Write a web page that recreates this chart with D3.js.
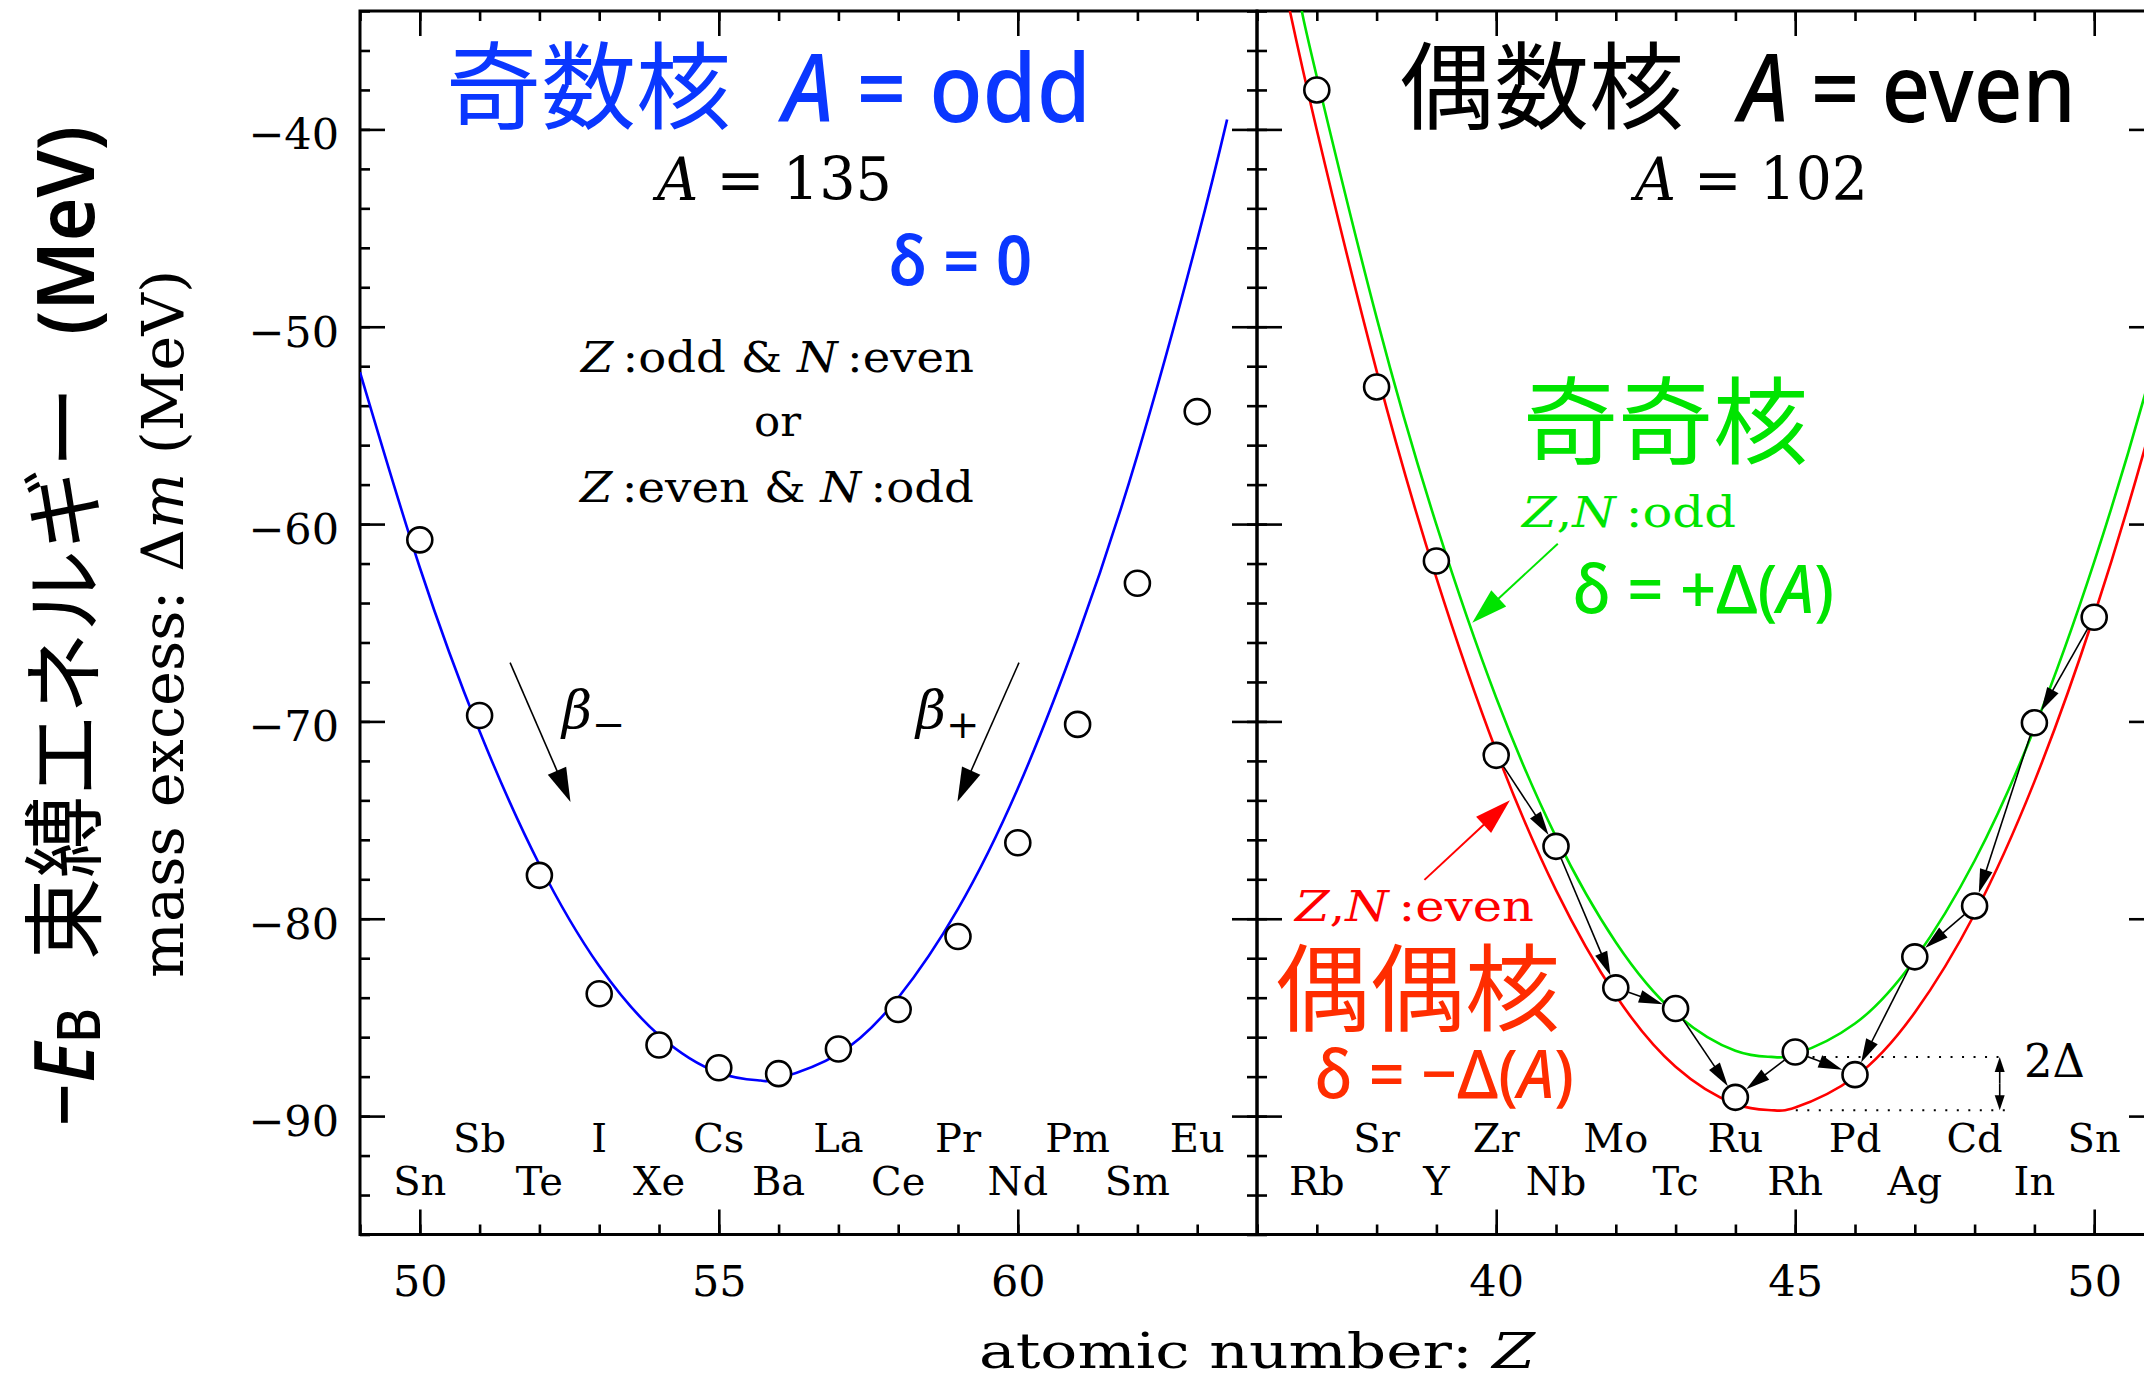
<!DOCTYPE html>
<html>
<head>
<meta charset="utf-8">
<script src="https://cdn.jsdelivr.net/npm/d3@7"></script>
<style>
  html, body { margin: 0; padding: 0; background: #fff; overflow: hidden; }
  svg { display: block; background: #fff; }
  .serif { font-family: "DejaVu Serif", "Liberation Serif", serif; }
  .sans { font-family: "Noto Sans", "DejaVu Sans", sans-serif; }
  .cjk { font-family: "Noto Sans CJK JP", "Noto Sans CJK SC", sans-serif; }
</style>
</head>
<body>
<div class="chart-wrapper"><svg></svg></div>
<script>
// ---- A = 135 (odd A) ----
var oddZ = [50, 51, 52, 53, 54, 55, 56, 57, 58, 59, 60, 61, 62, 63];
var oddSymbols = ["Sn", "Sb", "Te", "I", "Xe", "Cs", "Ba", "La", "Ce", "Pr", "Nd", "Pm", "Sm", "Eu"];
var oddMass = [-60.8, -69.7, -77.8, -83.8, -86.4, -87.55, -87.85, -86.6, -84.6, -80.9, -76.15, -70.15, -63.0, -54.3];
// mass formula curve
var oddCurveZ = [49, 50, 51, 52, 53, 54, 55, 55.7, 56, 57, 58, 59, 60, 61, 62, 63, 63.5];
var oddCurveMass = [-52.3, -62.2, -70.5, -77.25, -82.4, -85.9, -87.8, -88.2, -88.1, -86.85, -84.0, -79.5, -73.4, -65.7, -56.5, -45.6, -39.5];

// ---- A = 102 (even A) ----
var evenZ = [37, 38, 39, 40, 41, 42, 43, 44, 45, 46, 47, 48, 49, 50];
var evenSymbols = ["Rb", "Sr", "Y", "Zr", "Nb", "Mo", "Tc", "Ru", "Rh", "Pd", "Ag", "Cd", "In", "Sn"];
var evenMass = [-38.0, -53.05, -61.87, -71.72, -76.33, -83.5, -84.55, -89.05, -86.75, -87.9, -81.93, -79.35, -70.07, -64.72];
// even-even curve (red) and odd-odd curve (green)
var eeCurveZ = [36.55, 37, 38, 39, 40, 41, 42, 43, 44, 44.6, 45, 46, 47, 48, 49, 50, 51, 52];
var eeCurveMass = [-34.0, -40.03, -52.24, -62.73, -71.5, -78.55, -83.89, -87.5, -89.39, -89.7, -89.56, -88.01, -84.75, -79.76, -73.05, -64.62, -54.47, -42.61];
var ooCurveZ = [36.75, 37, 38, 39, 40, 41, 42, 43, 44, 44.6, 45, 46, 47, 48, 49, 50, 51, 52];
var ooCurveMass = [-34.0, -37.33, -49.54, -60.03, -68.8, -75.85, -81.19, -84.8, -86.69, -87.0, -86.86, -85.31, -82.05, -77.06, -70.35, -61.92, -51.77, -39.91];
// beta decay chain arrows (from -> to)
var decayFrom = ["Zr", "Nb", "Mo", "Tc", "Rh", "Rh", "Sn", "In", "Cd", "Ag"];
var decayTo   = ["Nb", "Mo", "Tc", "Ru", "Ru", "Pd", "In", "Cd", "Ag", "Pd"];
var pairingGap = [-87.0, -89.7];

// ---- ticks ----
var yTickValues = [-90, -80, -70, -60, -50, -40];
var xTickLeft = [50, 55, 60];
var xTickRight = [40, 45, 50];

var width = 2144,
    height = 1379;

var plotTop = 11,
    plotBottom = 1234.5;

var blueText = "#0a37ff", blueLine = "#0000ff",
    greenC = "#00e400", redLine = "#ff0000", redText = "#ff2d00";

var y = d3.scaleLinear().domain([-96, -34]).range([plotBottom, plotTop]);
var xL = d3.scaleLinear().domain([49, 64]).range([360, 1257]);
var xR = d3.scaleLinear().domain([36, 51]).range([1257, 2154]);

var svg = d3.select("svg")
    .attr("width", width)
    .attr("height", height);

var defs = svg.append("defs");
defs.append("clipPath").attr("id", "clip-left")
    .append("rect").attr("x", 360).attr("y", plotTop).attr("width", 897).attr("height", plotBottom - plotTop);
defs.append("clipPath").attr("id", "clip-right")
    .append("rect").attr("x", 1257).attr("y", plotTop).attr("width", 897).attr("height", plotBottom - plotTop);

function styleAxis(g, labelSize) {
    g.select(".domain").remove();
    g.selectAll("line").attr("stroke", "#000").attr("stroke-width", 2.6);
    g.attr("font-family", null).attr("font-size", null);
    g.selectAll("text")
        .attr("class", "serif")
        .attr("font-size", labelSize || 43)
        .attr("fill", "#000");
}

function drawFrame(x, zTicks, labelY) {
    var d = x.domain();
    var minorZ = d3.range(d[0], d[1] + 1);
    var minorY = d3.range(-96, -33, 2);
    var g = svg.append("g");

    // bottom
    g.append("g").attr("transform", "translate(0," + plotBottom + ")")
        .call(d3.axisBottom(x).tickValues(minorZ).tickSize(-10).tickFormat(""))
        .call(styleAxis);
    g.append("g").attr("transform", "translate(0," + plotBottom + ")")
        .call(d3.axisBottom(x).tickValues(zTicks).tickSize(-25).tickPadding(31).tickFormat(d3.format("d")))
        .call(styleAxis);
    // top
    g.append("g").attr("transform", "translate(0," + plotTop + ")")
        .call(d3.axisTop(x).tickValues(minorZ).tickSize(-10).tickFormat(""))
        .call(styleAxis);
    g.append("g").attr("transform", "translate(0," + plotTop + ")")
        .call(d3.axisTop(x).tickValues(zTicks).tickSize(-25).tickFormat(""))
        .call(styleAxis);
    // left
    g.append("g").attr("transform", "translate(" + x.range()[0] + ",0)")
        .call(d3.axisLeft(y).tickValues(minorY).tickSize(-10).tickFormat(""))
        .call(styleAxis);
    var la = g.append("g").attr("transform", "translate(" + x.range()[0] + ",0)")
        .call(d3.axisLeft(y).tickValues(yTickValues).tickSize(-25).tickPadding(21)
              .tickFormat(labelY ? d3.format("d") : ""))
        .call(styleAxis);
    la.selectAll("text").attr("dy", "0.45em");
    // right
    g.append("g").attr("transform", "translate(" + x.range()[1] + ",0)")
        .call(d3.axisRight(y).tickValues(minorY).tickSize(-10).tickFormat(""))
        .call(styleAxis);
    g.append("g").attr("transform", "translate(" + x.range()[1] + ",0)")
        .call(d3.axisRight(y).tickValues(yTickValues).tickSize(-25).tickFormat(""))
        .call(styleAxis);

    g.append("rect")
        .attr("x", x.range()[0]).attr("y", plotTop)
        .attr("width", x.range()[1] - x.range()[0]).attr("height", plotBottom - plotTop)
        .attr("fill", "none").attr("stroke", "#000").attr("stroke-width", 3);
}

function arrow(g, p0, p1, head, half, color, lw) {
    var dx = p1[0] - p0[0], dy = p1[1] - p0[1];
    var len = Math.sqrt(dx * dx + dy * dy);
    var ux = dx / len, uy = dy / len;
    var bx = p1[0] - ux * head, by = p1[1] - uy * head;
    g.append("line")
        .attr("x1", p0[0]).attr("y1", p0[1]).attr("x2", bx + ux * 2).attr("y2", by + uy * 2)
        .attr("stroke", color).attr("stroke-width", lw);
    g.append("path")
        .attr("d", "M" + p1[0] + "," + p1[1] +
                   "L" + (bx - uy * half) + "," + (by + ux * half) +
                   "L" + (bx + uy * half) + "," + (by - ux * half) + "Z")
        .attr("fill", color).attr("stroke", "none");
}

// text helper: pieces = [[string, {italic, size, dy}]...]
function label(g, x0, x1, base, cls, size, color, pieces, weight) {
    var t = g.append("text")
        .attr("class", cls)
        .attr("x", x0).attr("y", base)
        .attr("font-size", size)
        .attr("fill", color);
    if (weight) t.attr("font-weight", weight);
    if (x1 != null) t.attr("textLength", x1 - x0).attr("lengthAdjust", "spacingAndGlyphs");
    pieces.forEach(function (p) {
        var s = t.append("tspan").text(p[0]);
        var o = p[1] || {};
        if (o.italic) s.attr("font-style", "italic");
        if (o.size) s.attr("font-size", o.size);
        if (o.dy) s.attr("dy", o.dy);
    });
    return t;
}

drawFrame(xL, xTickLeft, true);
drawFrame(xR, xTickRight, false);

// ---------------- left panel ----------------
var left = svg.append("g");

var lineL = d3.line()
    .x(function (d) { return xL(d[0]); })
    .y(function (d) { return y(d[1]); })
    .curve(d3.curveNatural);

left.append("path")
    .attr("clip-path", "url(#clip-left)")
    .datum(d3.zip(oddCurveZ, oddCurveMass))
    .attr("d", lineL)
    .attr("fill", "none").attr("stroke", blueLine).attr("stroke-width", 2.6);

left.selectAll(".nuc")
    .data(d3.zip(oddZ, oddMass))
    .enter()
    .append("circle")
    .attr("class", "nuc")
    .attr("cx", function (d) { return xL(d[0]); })
    .attr("cy", function (d) { return y(d[1]); })
    .attr("r", 12.5)
    .attr("fill", "#fff").attr("stroke", "#000").attr("stroke-width", 2.6);

left.selectAll(".sym")
    .data(oddSymbols)
    .enter()
    .append("text")
    .attr("class", "serif sym")
    .attr("x", function (d, i) { return xL(oddZ[i]); })
    .attr("y", function (d, i) { return i % 2 === 0 ? 1195 : 1152; })
    .attr("text-anchor", "middle")
    .attr("font-size", 40)
    .text(function (d) { return d; });

arrow(left, [xL(51.51), y(-67.02)], [xL(52.52), y(-74.08)], 34, 10, "#000", 1.6);
arrow(left, [xL(60.02), y(-67.02)], [xL(58.99), y(-74.07)], 34, 10, "#000", 1.6);

label(left, 562, null, 728, "serif", 52, "#000", [["β", { italic: true }], ["−", { size: 40, dy: 10 }]]);
label(left, 916, null, 728, "serif", 52, "#000", [["β", { italic: true }], ["+", { size: 40, dy: 10 }]]);

label(left, 446, null, 122, "cjk", 95, blueText, [["奇数核"]]);
label(left, 783, 1091, 122, "sans", 95, blueText, [["A", { italic: true }], [" = odd"]], 500);
label(left, 657, 892, 200, "serif", 60, "#000", [["A", { italic: true }], [" = 135"]]);
label(left, 889, 1032, 285, "sans", 68, blueText, [["δ = 0"]], 600);
label(left, 581, 974, 372, "serif", 42, "#000", [["Z", { italic: true }], ["\u2009:odd & "], ["N", { italic: true }], ["\u2009:even"]]);
label(left, 754, 801, 436, "serif", 42, "#000", [["or"]]);
label(left, 580, 974, 502, "serif", 42, "#000", [["Z", { italic: true }], ["\u2009:even & "], ["N", { italic: true }], ["\u2009:odd"]]);

// ---------------- right panel ----------------
var right = svg.append("g");

var lineR = d3.line()
    .x(function (d) { return xR(d[0]); })
    .y(function (d) { return y(d[1]); })
    .curve(d3.curveNatural);

right.append("path")
    .attr("clip-path", "url(#clip-right)")
    .datum(d3.zip(ooCurveZ, ooCurveMass))
    .attr("d", lineR)
    .attr("fill", "none").attr("stroke", greenC).attr("stroke-width", 2.6);

right.append("path")
    .attr("clip-path", "url(#clip-right)")
    .datum(d3.zip(eeCurveZ, eeCurveMass))
    .attr("d", lineR)
    .attr("fill", "none").attr("stroke", redLine).attr("stroke-width", 2.6);

// pairing gap marker
right.append("line")
    .attr("x1", xR(45.29)).attr("x2", xR(48.54))
    .attr("y1", y(pairingGap[0])).attr("y2", y(pairingGap[0]))
    .attr("stroke", "#000").attr("stroke-width", 2).attr("stroke-dasharray", "2,9.5");
right.append("line")
    .attr("x1", xR(45.01)).attr("x2", xR(48.54))
    .attr("y1", y(pairingGap[1])).attr("y2", y(pairingGap[1]))
    .attr("stroke", "#000").attr("stroke-width", 2).attr("stroke-dasharray", "2,9.5");
var gx = xR(48.42), gm = (y(pairingGap[0]) + y(pairingGap[1])) / 2;
arrow(right, [gx, gm], [gx, y(pairingGap[0])], 15, 5, "#000", 1.6);
arrow(right, [gx, gm], [gx, y(pairingGap[1])], 15, 5, "#000", 1.6);
label(right, 2024, 2085, 1077, "serif", 46, "#000", [["2Δ"]]);

// decay arrows between nuclei
var r0 = 13.5;
decayFrom.forEach(function (s, i) {
    var a = evenSymbols.indexOf(s), b = evenSymbols.indexOf(decayTo[i]);
    var p0 = [xR(evenZ[a]), y(evenMass[a])], p1 = [xR(evenZ[b]), y(evenMass[b])];
    var dx = p1[0] - p0[0], dy = p1[1] - p0[1], len = Math.sqrt(dx * dx + dy * dy);
    var ux = dx / len, uy = dy / len;
    arrow(right, [p0[0] + ux * r0, p0[1] + uy * r0], [p1[0] - ux * r0, p1[1] - uy * r0], 24, 6.5, "#000", 1.6);
});

right.selectAll(".nuc")
    .data(d3.zip(evenZ, evenMass))
    .enter()
    .append("circle")
    .attr("class", "nuc")
    .attr("cx", function (d) { return xR(d[0]); })
    .attr("cy", function (d) { return y(d[1]); })
    .attr("r", 12.5)
    .attr("fill", "#fff").attr("stroke", "#000").attr("stroke-width", 2.6);

right.selectAll(".sym")
    .data(evenSymbols)
    .enter()
    .append("text")
    .attr("class", "serif sym")
    .attr("x", function (d, i) { return xR(evenZ[i]); })
    .attr("y", function (d, i) { return i % 2 === 0 ? 1195 : 1152; })
    .attr("text-anchor", "middle")
    .attr("font-size", 40)
    .text(function (d) { return d; });

arrow(right, [xR(41.03), y(-61.0)], [xR(39.6), y(-65.0)], 36, 11, greenC, 2);
arrow(right, [xR(38.8), y(-78.03)], [xR(40.23), y(-74.0)], 36, 11, redLine, 2);

label(right, 1399, null, 122, "cjk", 95, "#000", [["偶数核"]]);
label(right, 1739, 2076, 122, "sans", 95, "#000", [["A", { italic: true }], [" = even"]], 500);
label(right, 1635, 1868, 200, "serif", 60, "#000", [["A", { italic: true }], [" = 102"]]);
label(right, 1523, null, 457, "cjk", 95, greenC, [["奇奇核"]]);
label(right, 1522, 1736, 527, "serif", 42, greenC, [["Z", { italic: true }], [","], ["N", { italic: true }], ["\u2009:odd"]]);
label(right, 1573, 1834, 613, "sans", 68, greenC, [["δ = +Δ("], ["A", { italic: true }], [")"]], 500);
label(right, 1295, 1534, 921, "serif", 42, redLine, [["Z", { italic: true }], [","], ["N", { italic: true }], ["\u2009:even"]]);
label(right, 1275, null, 1024, "cjk", 95, redText, [["偶偶核"]]);
label(right, 1315, 1574, 1098, "sans", 68, redText, [["δ = −Δ("], ["A", { italic: true }], [")"]], 500);

// ---------------- axis titles ----------------
label(svg, 979, 1535, 1368, "serif", 48, "#000", [["atomic number: "], ["Z", { italic: true }]]);

var yt1 = svg.append("g").attr("transform", "translate(94,0) rotate(-90)");
label(yt1, -1126.5, -1008, 0, "sans", 84, "#000", [["−"], ["E", { italic: true }], ["B", { size: 60, dy: 6 }]], 500);
label(yt1, -960, null, 0, "cjk", 82, "#000", [["束縛エネルギー"]]);
label(yt1, -335, -126, 0, "sans", 80, "#000", [["(MeV)"]], 600);

var yt2 = svg.append("g").attr("transform", "translate(183,0) rotate(-90)");
label(yt2, -978, -270, 0, "serif", 58, "#000", [["mass excess: Δ"], ["m", { italic: true }], ["  (MeV)"]]);
</script>
</body>
</html>
